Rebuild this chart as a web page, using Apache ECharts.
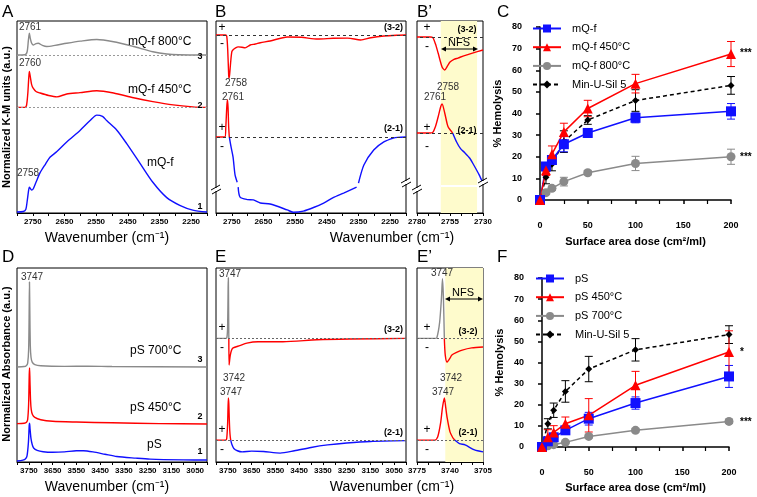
<!DOCTYPE html>
<html>
<head>
<meta charset="utf-8">
<script src="https://cdn.jsdelivr.net/npm/echarts@6/dist/echarts.min.js"></script>
<style>
  html, body { margin: 0; background: #fff; }
  #main { width: 757px; height: 497px; }
</style>
</head>
<body>
<div id="main"></div>
<script>
// ---- spectra (wavenumber, normalized units 0-100 in each panel) ----
// A: mQ-f diffuse reflectance, offsets as drawn
var specA3 = [[2800,82.3],[2775,82.4],[2768,84],[2764,90],[2761,93.6],[2758,91],[2754,88.5],[2749,87.5],[2740,88.2],[2733,88.4],[2720,87.3],[2706,86.7],[2680,87.3],[2643,88.4],[2600,89.5],[2548,90.4],[2495,89.2],[2432,86.7],[2371,84],[2327,82.8],[2290,82.4],[2200,82.3]];
var specA2 = [[2800,55],[2775,55],[2770,56],[2766,62],[2763,70],[2761,73.7],[2758,71],[2754,67],[2749,65],[2740,63.3],[2727,62.5],[2700,61.2],[2674,60.5],[2643,62],[2601,62.7],[2548,63.7],[2495,62.5],[2432,60],[2371,58],[2307,56.3],[2245,55.3],[2200,55]];
var specA1 = [[2800,0.5],[2780,0.8],[2772,2],[2768,6],[2764,11],[2761,13.5],[2758,12.8],[2754,12],[2749,12.5],[2740,16],[2727,21],[2710,25.5],[2696,29],[2674,32],[2643,37],[2601,43],[2570,48],[2548,51],[2530,50.3],[2516,48],[2484,43],[2453,36],[2412,26],[2371,16],[2327,8],[2286,4],[2245,1.5],[2200,0.5]];
var baseA = [82.3, 55];

// B: difference spectra
var specB32 = [[2800,92.7],[2770,92.7],[2766,92],[2763,85],[2760,72],[2759,70.3],[2757,72],[2754,78],[2750,84],[2746,85],[2738,86],[2730,86.5],[2718,86.3],[2708,86],[2692,87.5],[2676,88],[2660,88.7],[2629,89.6],[2575,91.7],[2530,91.5],[2479,90.6],[2430,91],[2384,91.1],[2343,90.1],[2311,91.3],[2270,92.2],[2230,92.6],[2200,92.7]];
var specB21 = [[2800,39.6],[2772,39.6],[2769,45],[2766,55],[2764,59],[2762,55],[2760,45],[2758,39.6]];
var specB21b = [[2758,39.6],[2752,34],[2746,29],[2740,20],[2733,16],[2731.5,'-'],[2730,13.5],[2724,8.3],[2700,7],[2682,6.8],[2660,5.2],[2629,4.7],[2575,1.6],[2556,0.4],[2524,1],[2490,3],[2460,5.2],[2430,8],[2397,10.4],[2356,13.5],[2353,'-'],[2350,15.6],[2333,25],[2302,32.8],[2270,37],[2240,39],[2226,39.4],[2200,39.6]];
var baseB = [92.7, 39.6];

// B': zoom of B
var specBp32 = [[2780,91.7],[2770,91.7],[2768,91.3],[2766,88],[2764,83.3],[2761,76],[2759,74.5],[2757,76.5],[2755,78.6],[2752,80],[2749,80.7],[2744,82],[2738,83.3],[2730,84.9]];
var specBp21 = [[2780,41.7],[2770,41.7],[2768,42],[2766,45],[2764,50],[2762,55.5],[2761,56.8],[2759,52.1],[2757,46],[2756,44.3],[2753,41.7]];
var specBp21b = [[2753,41.7],[2750,37],[2747,33.5],[2744,31.5],[2740,28.5],[2737,25],[2733,20],[2730,15.6]];
var baseBp = [91.7, 41.7];
var nfsB = [2762, 2734.5];

// D: pS absorbance
var specD3 = [[3800,49],[3770,49.2],[3760,49.8],[3755,51],[3751,58],[3749,75],[3747.5,92.8],[3746,78],[3744,60],[3741,54],[3736,51.5],[3725,50.2],[3700,49.6],[3600,49.3],[3500,49.4],[3400,49.2],[3000,49]];
var specD2 = [[3800,19.8],[3770,20],[3760,20.5],[3755,22],[3751,30],[3748.5,45],[3747,48.5],[3745.5,42],[3743,32],[3740,27],[3735,24.5],[3725,23],[3700,21.8],[3650,21],[3550,20.6],[3400,20.2],[3200,19.8],[3000,19.6]];
var specD1 = [[3800,0.5],[3775,1],[3765,1.5],[3758,3],[3752,10],[3748.5,19],[3747,20],[3745,17],[3741,12],[3736,9],[3730,7.2],[3715,6],[3690,5.3],[3650,5],[3600,5.2],[3550,5.8],[3520,5.8],[3480,5.2],[3430,4],[3380,2.8],[3300,2],[3240,1.5],[3100,1.1],[3000,1]];

// E: difference spectra
var specE32g = [[3800,63.7],[3760,63.7],[3754,64.3],[3751,70],[3749,90],[3748,95],[3747,80],[3746,63.7]];
var specE32r = [[3746,63.7],[3745,50],[3743,52],[3740,55],[3735,57.5],[3728,58.8],[3700,60],[3670,61.3],[3623,62],[3518,62],[3375,63],[3236,63.4],[3000,63.7]];
var specE21 = [[3800,11.3],[3760,11.3],[3755,12],[3751,20],[3748,33],[3746,30],[3744,22],[3742,16],[3740,13],[3738,11.3]];
var specE21b = [[3738,11.3],[3733,9],[3725,7],[3710,5.8],[3690,5.2],[3650,5.6],[3600,5.4],[3530,4.6],[3470,5.8],[3400,7.5],[3330,8.8],[3250,9.8],[3150,10.6],[3000,11]];
var baseE = [63.7, 11.3];

// E': zoom of E
var specEp32g = [[3775,63.7],[3756,63.7],[3754,64],[3751,72],[3749,85],[3748,94.5],[3747,85],[3746,63.7]];
var specEp32r = [[3746,63.7],[3745,55],[3743,51.5],[3740,53.5],[3738,55.2],[3733,56.5],[3727,57.7],[3717,58.8],[3705,59.3]];
var specEp21 = [[3775,11.3],[3756,11.3],[3753,13],[3750,20],[3748,28],[3746,33],[3744.5,28],[3743,22.7],[3740,15.5],[3737,12.5],[3735,11.3]];
var specEp21b = [[3735,11.3],[3730,9.5],[3724,8.8],[3714,6.2],[3705,5.2]];
var nfsE = [3745, 3705];

// tick labels
var ticksMqLabels = [2250, 2350, 2450, 2550, 2650, 2750];
var ticksMq = [2200, 2250, 2300, 2350, 2400, 2450, 2500, 2550, 2600, 2650, 2700, 2750, 2800];
var ticksMqZoomLabels = [2730, 2755, 2780];
var ticksMqZoom = [2730, 2738.33, 2746.67, 2755, 2763.33, 2771.67, 2780];
var ticksPsLabels = [3050, 3150, 3250, 3350, 3450, 3550, 3650, 3750];
var ticksPs = [3000, 3050, 3100, 3150, 3200, 3250, 3300, 3350, 3400, 3450, 3500, 3550, 3600, 3650, 3700, 3750, 3800];
var ticksPsZoomLabels = [3705, 3740, 3775];
var ticksPsZoom = [3705, 3716.67, 3728.33, 3740, 3751.67, 3763.33, 3775];

// ---- hemolysis ----
var doses = [0, 6.25, 12.5, 25, 50, 100, 200];
var cMqf = [0, 15.5, 18.5, 25.8, 31, 38, 41];
var cMqfErr = [0, 1.5, 2, 3.5, 2, 2.3, 3.6];
var cMqf450 = [0, 13.8, 21.2, 31.5, 42.3, 53.8, 67.5];
var cMqf450Err = [0, 2.5, 3.8, 4, 3.8, 4.3, 5.8];
var cMqf800 = [0, 3.4, 5.4, 8.5, 12.6, 16.9, 20];
var cMqf800Err = [0, 0.8, 1, 2, 1, 3.3, 3.5];
var cMinU = [0, 10.5, 16.5, 27, 37, 46, 53];
var cMinUErr = [0, 3, 3, 5, 2, 5, 4.1];

var fPs = [0, 2.7, 4.6, 7.9, 13.4, 20.8, 33.4];
var fPsErr = [0, 1, 1.5, 1.5, 3, 2.9, 5.2];
var fPs450 = [0, 4.6, 6.9, 11, 15, 29.2, 45];
var fPs450Err = [0, 3.6, 3.2, 3.2, 7.9, 6.6, 10];
var fPs700 = [0, 0.6, 1.1, 2.2, 5, 7.9, 12.1];
var fPs700Err = [0, 0.5, 0.5, 0.5, 0.7, 0.8, 1];
var fMinU = [0, 11, 17.4, 26.3, 36.9, 46, 53.2];
var fMinUErr = [0, 2.4, 3.4, 5.1, 6, 5.3, 4.2];

var FONT = '"Liberation Sans", Arial, sans-serif';
var BLUE = '#1010ff', RED = '#ff0000', GRAY = '#8a8a8a';

var myChart = echarts.init(document.getElementById('main'));

function specGrid(l, t, w, h) {
    return { left: l, top: t, width: w, height: h, show: true, borderColor: '#000', borderWidth: 1,
        backgroundColor: 'transparent', containLabel: false, outerBoundsMode: 'none' };
}
function specX(g, min, max, labels, ticks) {
    return {
        gridIndex: g, type: 'value', inverse: true, min: min, max: max,
        axisLine: { show: true, lineStyle: { color: '#000', width: 1 } },
        axisTick: { show: true, customValues: ticks, length: 3, lineStyle: { color: '#000' } },
        axisLabel: {
            customValues: labels, fontSize: 8, fontWeight: 'bold', color: '#000', margin: 5, fontFamily: FONT,
            formatter: function (v) { return String(Math.round(v)); }
        },
        splitLine: { show: false }
    };
}
function specY(g) {
    return { gridIndex: g, type: 'value', min: 0, max: 100, show: false };
}
function spec(g, data, color, extra) {
    return Object.assign({
        type: 'line', xAxisIndex: g, yAxisIndex: g, data: data, showSymbol: false, symbol: 'none',
        smooth: 0.25, silent: true, animation: false, z: 3,
        lineStyle: { color: color, width: 1.4 }, itemStyle: { color: color }
    }, extra || {});
}
function baseLines(vals, color, dash) {
    return {
        silent: true, symbol: 'none', animation: false, label: { show: false },
        lineStyle: { color: color, type: dash, width: 1 },
        data: vals.map(function (v) { return { yAxis: v }; })
    };
}
function nfsArea(range) {
    return { silent: true, itemStyle: { color: '#fefbcc' }, data: [[{ xAxis: range[0] }, { xAxis: range[1] }]] };
}

// hemolysis series
function hemoX(g, gap) {
    return {
        gridIndex: g, type: 'value', min: 0, max: 200, interval: 50, offset: 13,
        axisLine: { show: true, lineStyle: { color: '#000', width: 1.5 } },
        axisTick: { show: true, length: 4, lineStyle: { color: '#000', width: 1.5 } },
        minorTick: { show: true, splitNumber: 2, length: 4, lineStyle: { color: '#000', width: 1.2 } },
        axisLabel: { fontSize: 9, fontWeight: 'bold', color: '#000', margin: 8, fontFamily: FONT },
        splitLine: { show: false }, minorSplitLine: { show: false },
        name: 'Surface area dose (cm²/ml)', nameLocation: 'middle', nameGap: gap,
        nameTextStyle: { fontSize: 11, fontWeight: 'bold', color: '#000', fontFamily: FONT }
    };
}
function hemoY(g) {
    return {
        gridIndex: g, type: 'value', min: 0, max: 80, interval: 10, offset: 13,
        axisLine: { show: true, lineStyle: { color: '#000', width: 1.5 } },
        axisTick: { show: true, length: 4, lineStyle: { color: '#000', width: 1.5 } },
        axisLabel: { fontSize: 9, fontWeight: 'bold', color: '#000', margin: 5, fontFamily: FONT },
        splitLine: { show: false },
        name: '% Hemolysis', nameLocation: 'middle', nameGap: 24,
        nameTextStyle: { fontSize: 11, fontWeight: 'bold', color: '#000', fontFamily: FONT }
    };
}
function hemoLine(name, g, ys, color, symbol, size, dashed) {
    return {
        name: name, type: 'line', xAxisIndex: g, yAxisIndex: g, animation: false, z: 5,
        data: doses.map(function (d, i) { return [d, ys[i]]; }),
        symbol: symbol, symbolSize: size, showSymbol: true,
        lineStyle: { color: color, width: 1.5, type: dashed ? [4, 3] : 'solid' },
        itemStyle: { color: color }
    };
}
function hemoErr(g, ys, errs, color) {
    return {
        type: 'custom', xAxisIndex: g, yAxisIndex: g, silent: true, animation: false, z: 4,
        data: doses.map(function (d, i) { return [d, ys[i], errs[i]]; }),
        renderItem: function (params, api) {
            var x = api.value(0), y = api.value(1), e = api.value(2);
            if (!e) return;
            var top = api.coord([x, y + e]), bot = api.coord([x, y - e]);
            var st = { stroke: color, lineWidth: 1 };
            return {
                type: 'group', children: [
                    { type: 'line', shape: { x1: top[0], y1: top[1], x2: bot[0], y2: bot[1] }, style: st },
                    { type: 'line', shape: { x1: top[0] - 4, y1: top[1], x2: top[0] + 4, y2: top[1] }, style: st },
                    { type: 'line', shape: { x1: bot[0] - 4, y1: bot[1], x2: bot[0] + 4, y2: bot[1] }, style: st }
                ]
            };
        }
    };
}
function hemoLegend(names, left, top) {
    return {
        data: names, orient: 'vertical', left: left, top: top, padding: 0,
        itemWidth: 28, itemHeight: 10, itemGap: 7.7, selectedMode: false,
        textStyle: { fontSize: 11, color: '#000', fontFamily: FONT, padding: [0, 0, 0, 6] }
    };
}

// graphic helpers
function txt(x, y, s, o) {
    return {
        type: 'text', x: x, y: y, z: 100, silent: true,
        style: Object.assign({ text: s, fill: '#000', font: '10px ' + FONT, textAlign: 'center', textVerticalAlign: 'middle' }, o || {})
    };
}
function brk(x, y) {
    return [
        { type: 'rect', z: 100, silent: true, shape: { x: x - 4, y: y - 2, width: 8, height: 3 }, style: { fill: '#fff' } },
        { type: 'line', z: 100, silent: true, shape: { x1: x - 5, y1: y, x2: x + 4, y2: y - 5 }, style: { stroke: '#000', lineWidth: 1 } },
        { type: 'line', z: 100, silent: true, shape: { x1: x - 4, y1: y + 4, x2: x + 5, y2: y - 1 }, style: { stroke: '#000', lineWidth: 1 } }
    ];
}
function arrow(x1, x2, y) {
    return [
        { type: 'line', z: 100, silent: true, shape: { x1: x1 + 2, y1: y, x2: x2 - 2, y2: y }, style: { stroke: '#000', lineWidth: 1 } },
        { type: 'polygon', z: 100, silent: true, shape: { points: [[x1, y], [x1 + 5, y - 2.5], [x1 + 5, y + 2.5]] }, style: { fill: '#000' } },
        { type: 'polygon', z: 100, silent: true, shape: { points: [[x2, y], [x2 - 5, y - 2.5], [x2 - 5, y + 2.5]] }, style: { fill: '#000' } }
    ];
}

var letter = { font: '17px ' + FONT, textAlign: 'left' };
var peak = { fill: '#333' };
var lab = { font: '12px ' + FONT, textAlign: 'left' };
var num = { font: 'bold 9px ' + FONT };
var pm = { font: '12px ' + FONT };
var diffLab = { font: 'bold 9px ' + FONT, textAlign: 'right' };
var diffLabC = { font: 'bold 9px ' + FONT };
var wav = { font: '14px ' + FONT };
var ytit = { font: 'bold 11px ' + FONT };

var graphics = [
    txt(2, 12, 'A', letter), txt(215, 12, 'B', letter), txt(417, 12, 'B’', letter), txt(497, 12, 'C', letter),
    txt(2, 257, 'D', letter), txt(215, 257, 'E', letter), txt(417, 257, 'E’', letter), txt(497, 257, 'F', letter),
    Object.assign(txt(7, 117, 'Normalized K-M units (a.u.)', ytit), { rotation: Math.PI / 2 }),
    Object.assign(txt(7, 364, 'Normalized Absorbance (a.u.)', ytit), { rotation: Math.PI / 2 }),
    txt(107, 238, 'Wavenumber (cm⁻¹)', wav), txt(392, 238, 'Wavenumber (cm⁻¹)', wav),
    txt(107, 487, 'Wavenumber (cm⁻¹)', wav), txt(392, 487, 'Wavenumber (cm⁻¹)', wav),
    // A
    txt(30, 27, '2761', peak), txt(128, 42, 'mQ-f 800°C', lab), txt(200, 57, '3', num),
    txt(30, 63, '2760', peak), txt(128, 90, 'mQ-f 450°C', lab), txt(200, 106, '2', num),
    txt(28, 173, '2758', peak), txt(147, 163, 'mQ-f', lab), txt(200, 207, '1', num),
    // B
    txt(222, 28, '+', pm), txt(222, 44, '-', pm), txt(236, 83, '2758', peak), txt(233, 97, '2761', peak),
    txt(222, 128, '+', pm), txt(222, 147, '-', pm), txt(403, 28, '(3-2)', diffLab), txt(403, 129, '(2-1)', diffLab),
    // B'
    txt(427, 28, '+', pm), txt(427, 47, '-', pm), txt(467, 30, '(3-2)', diffLabC), txt(459, 43, 'NFS', { font: '11px ' + FONT }),
    txt(448, 87, '2758', peak), txt(435, 97, '2761', peak),
    txt(427, 128, '+', pm), txt(427, 147, '-', pm), txt(467, 131, '(2-1)', diffLabC),
    { type: 'rect', z: 100, silent: true, shape: { x: 441, y: 185, width: 37, height: 2 }, style: { fill: '#fff' } },
    // C stars
    txt(740, 53, '***', { font: 'bold 10px ' + FONT, textAlign: 'left' }),
    txt(740, 157, '***', { font: 'bold 10px ' + FONT, textAlign: 'left' }),
    // D
    txt(32, 277, '3747', peak), txt(130, 351, 'pS 700°C', lab), txt(200, 360, '3', num),
    txt(130, 408, 'pS 450°C', lab), txt(200, 417, '2', num),
    txt(147, 445, 'pS', lab), txt(200, 452, '1', num),
    // E
    txt(230, 274, '3747', peak), txt(222, 328, '+', pm), txt(222, 348, '-', pm), txt(234, 378, '3742', peak),
    txt(231, 392, '3747', peak), txt(222, 430, '+', pm), txt(222, 450, '-', pm),
    txt(403, 330, '(3-2)', diffLab), txt(403, 433, '(2-1)', diffLab),
    // E'
    txt(442, 273, '3747', peak), txt(463, 293, 'NFS', { font: '11px ' + FONT }),
    txt(427, 328, '+', pm), txt(468, 332, '(3-2)', diffLabC), txt(427, 348, '-', pm),
    txt(451, 378, '3742', peak), txt(443, 392, '3747', peak),
    txt(427, 430, '+', pm), txt(468, 433, '(2-1)', diffLabC), txt(427, 450, '-', pm),
    // F stars
    txt(740, 352, '*', { font: 'bold 10px ' + FONT, textAlign: 'left' }),
    txt(740, 422, '***', { font: 'bold 10px ' + FONT, textAlign: 'left' })
].concat(brk(216, 190), brk(406, 183), brk(417, 190), brk(483, 183),
    arrow(441, 478, 49), arrow(445, 483, 299));

var option = {
    backgroundColor: '#fff',
    animation: false,
    textStyle: { fontFamily: FONT },
    grid: [
        specGrid(17, 21, 190, 192),
        specGrid(216, 21, 190, 192),
        specGrid(417, 21, 66, 192),
        { left: 540, top: 27, width: 191, height: 173, containLabel: false, outerBoundsMode: 'none' },
        specGrid(17, 268, 190, 194),
        specGrid(216, 268, 190, 194),
        specGrid(417, 268, 66, 194),
        { left: 542, top: 278, width: 187, height: 169, containLabel: false, outerBoundsMode: 'none' }
    ],
    xAxis: [
        specX(0, 2200, 2800, ticksMqLabels, ticksMq),
        specX(1, 2200, 2800, ticksMqLabels, ticksMq),
        specX(2, 2730, 2780, ticksMqZoomLabels, ticksMqZoom),
        hemoX(3, 23),
        specX(4, 3000, 3800, ticksPsLabels, ticksPs),
        specX(5, 3000, 3800, ticksPsLabels, ticksPs),
        specX(6, 3705, 3775, ticksPsZoomLabels, ticksPsZoom),
        hemoX(7, 22)
    ],
    yAxis: [specY(0), specY(1), specY(2), hemoY(3), specY(4), specY(5), specY(6), hemoY(7)],
    legend: [
        hemoLegend(['mQ-f', 'mQ-f 450°C', 'mQ-f 800°C', 'Min-U-Sil 5'], 532, 23),
        hemoLegend(['pS', 'pS 450°C', 'pS 700°C', 'Min-U-Sil 5'], 535, 273)
    ],
    series: [
        // A
        spec(0, specA3, GRAY, { markLine: baseLines(baseA, '#999', [2, 2]) }),
        spec(0, specA2, RED),
        spec(0, specA1, BLUE),
        // B
        spec(1, specB32, RED, { markLine: baseLines(baseB, '#333', [3, 3]) }),
        spec(1, specB21, RED),
        spec(1, specB21b, BLUE),
        // B'
        spec(2, specBp32, RED, { markLine: baseLines(baseBp, '#333', [3, 3]), markArea: nfsArea(nfsB) }),
        spec(2, specBp21, RED),
        spec(2, specBp21b, BLUE),
        // C
        hemoErr(3, cMqf800, cMqf800Err, GRAY),
        hemoErr(3, cMinU, cMinUErr, '#000'),
        hemoErr(3, cMqf, cMqfErr, BLUE),
        hemoErr(3, cMqf450, cMqf450Err, RED),
        hemoLine('mQ-f 800°C', 3, cMqf800, GRAY, 'circle', 9, false),
        hemoLine('Min-U-Sil 5', 3, cMinU, '#000', 'diamond', 7, true),
        hemoLine('mQ-f', 3, cMqf, BLUE, 'rect', 10, false),
        hemoLine('mQ-f 450°C', 3, cMqf450, RED, 'triangle', 10, false),
        // D
        spec(4, specD3, GRAY),
        spec(4, specD2, RED),
        spec(4, specD1, BLUE),
        // E
        spec(5, specE32g, GRAY, { markLine: baseLines(baseE, '#666', [2, 2]) }),
        spec(5, specE32r, RED),
        spec(5, specE21, RED),
        spec(5, specE21b, BLUE),
        // E'
        spec(6, specEp32g, GRAY, { markLine: baseLines(baseE, '#666', [2, 2]), markArea: nfsArea(nfsE) }),
        spec(6, specEp32r, RED),
        spec(6, specEp21, RED),
        spec(6, specEp21b, BLUE),
        // F
        hemoErr(7, fPs700, fPs700Err, GRAY),
        hemoErr(7, fMinU, fMinUErr, '#000'),
        hemoErr(7, fPs, fPsErr, BLUE),
        hemoErr(7, fPs450, fPs450Err, RED),
        hemoLine('pS 700°C', 7, fPs700, GRAY, 'circle', 9, false),
        hemoLine('Min-U-Sil 5', 7, fMinU, '#000', 'diamond', 7, true),
        hemoLine('pS', 7, fPs, BLUE, 'rect', 10, false),
        hemoLine('pS 450°C', 7, fPs450, RED, 'triangle', 10, false)
    ],
    graphic: graphics
};
myChart.setOption(option);
</script>
</body>
</html>
